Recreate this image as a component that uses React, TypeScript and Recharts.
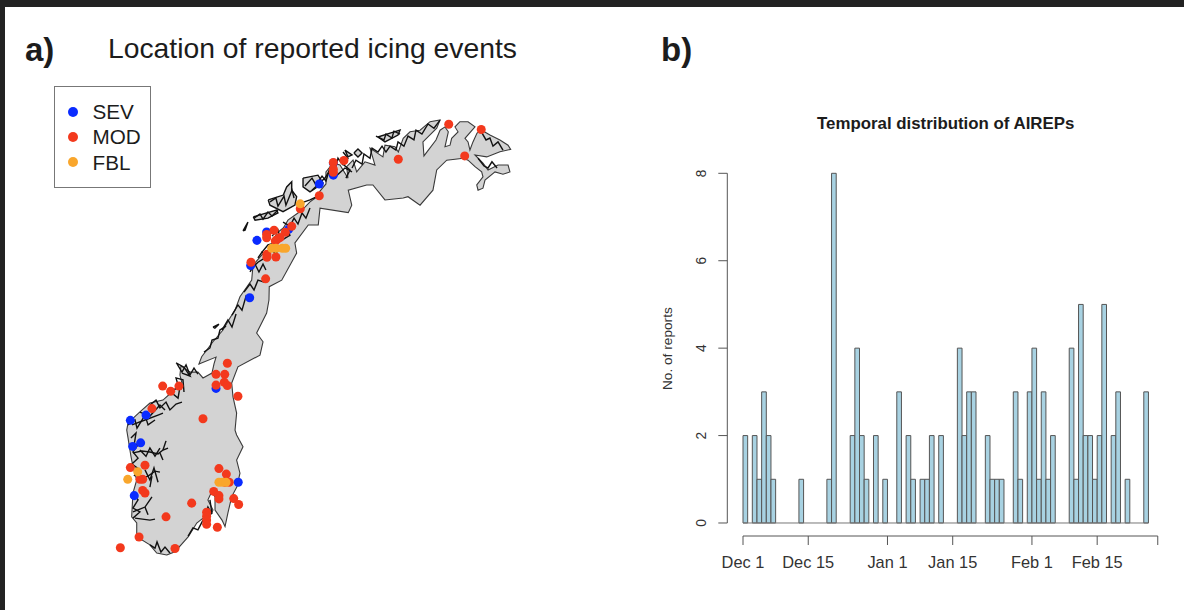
import {
  Bar,
  BarChart,
  Legend,
  ReferenceLine,
  Scatter,
  ScatterChart,
  XAxis,
  YAxis,
  ZAxis,
} from 'recharts';

type LonLat = [number, number];

// panel a: reported icing events, [lon, lat]
const sevEvents: LonLat[] = [
  [18.87, 69.59], [18.87, 69.96], [17.9, 69.32], [15.79, 67.93], [14.27, 67.85],
  [13.6, 67.59], [13.17, 66.82], [13.1, 65.83], [10.78, 63.05], [5.95, 62.23],
  [4.87, 62.07], [5.58, 61.38], [5.03, 61.27], [5.14, 59.76], [12.31, 60.17],
];

const modEvents: LonLat[] = [
  [18.87, 69.98], [18.87, 69.77], [18.87, 69.68], [19.6, 70.04], [23.35, 70.08],
  [26.83, 71.15], [29.07, 70.99], [27.93, 70.18], [17.9, 68.96], [16.59, 68.56],
  [16.0, 68.02], [15.56, 67.84], [14.78, 67.9], [14.27, 67.77], [14.27, 67.67],
  [15.19, 67.68], [15.0, 67.62], [14.87, 67.57], [14.29, 67.16], [14.29, 67.07],
  [14.91, 67.08], [13.19, 66.92], [14.2, 66.41], [11.56, 63.82], [10.78, 63.48],
  [11.38, 63.48], [10.78, 63.15], [11.35, 63.24], [11.56, 63.14], [12.29, 62.81],
  [7.1, 63.12], [7.65, 62.96], [8.22, 63.12], [6.36, 62.43], [9.88, 62.12],
  [4.87, 60.62], [5.88, 60.69], [5.53, 60.26], [5.72, 60.26], [5.72, 59.92],
  [5.88, 59.84], [10.98, 60.59], [11.49, 60.42], [11.4, 60.17], [11.69, 60.17],
  [10.62, 59.89], [10.98, 59.76], [10.98, 59.66], [12.0, 59.67], [12.34, 59.49],
  [9.1, 59.53], [7.33, 59.11], [10.13, 59.25], [10.13, 59.13], [10.13, 59.01],
  [10.13, 58.88], [10.87, 58.79], [5.47, 58.49], [7.95, 58.14], [4.18, 58.16],
];

const fblEvents: LonLat[] = [
  [16.59, 68.71], [14.62, 67.35], [14.91, 67.35], [15.35, 67.35], [15.58, 67.35],
  [5.38, 60.49], [4.69, 60.26], [10.98, 60.17], [11.21, 60.17], [11.47, 60.17],
];

// panel a: simplified coast and border of mainland Norway
const mainland: LonLat[] = [
  [7.38, 57.94], [7.95, 58.04], [8.43, 58.28], [8.87, 58.5], [9.45, 58.92], [9.88, 59.07],
  [10.36, 59.13], [10.57, 59.32], [10.22, 59.63], [10.48, 59.88], [10.71, 59.72], [10.71, 59.32],
  [11.19, 59.01], [11.4, 58.81], [11.6, 59.23], [11.86, 59.73], [12.22, 60.03], [12.43, 60.45],
  [12.2, 60.85], [12.64, 61.26], [12.2, 61.62], [12.09, 61.77], [12.2, 62.29], [11.95, 62.79],
  [11.86, 63.21], [12.29, 63.71], [13.81, 64.07], [14.02, 64.48], [13.58, 64.75], [14.27, 65.36],
  [14.43, 65.76], [14.45, 66.17], [15.31, 66.37], [16.34, 67.2], [16.22, 67.51], [17.14, 68.06],
  [17.83, 68.06], [17.95, 68.58], [19.9, 68.44], [20.14, 68.67], [19.9, 69.13], [21.17, 69.29],
  [21.6, 69.29], [22.43, 68.83], [23.69, 68.89], [24.02, 68.93], [24.85, 68.67], [25.74, 69.13],
  [26.0, 69.75], [26.69, 70.05], [27.83, 70.11], [28.16, 70.05], [28.64, 69.85], [29.1, 69.69],
  [29.19, 69.54], [28.76, 69.29], [28.85, 69.13], [29.19, 69.19], [29.33, 69.44], [30.02, 69.69],
  [30.57, 69.62], [31.05, 69.69], [30.92, 69.9], [30.23, 69.9], [29.54, 69.75], [29.19, 69.96],
  [28.64, 70.21], [29.45, 70.15], [30.36, 70.31], [31.1, 70.38], [30.92, 70.51], [30.36, 70.67],
  [29.67, 70.82], [29.1, 70.97], [28.78, 70.88], [28.5, 70.61], [28.29, 70.36], [28.16, 70.61],
  [27.95, 70.72], [28.64, 71.07], [28.16, 71.23], [27.6, 71.23], [27.26, 71.07], [27.47, 70.92],
  [27.03, 70.72], [26.92, 70.51], [26.57, 70.46], [26.8, 70.92], [26.57, 71.07], [26.23, 70.97],
  [25.95, 70.67], [25.12, 70.18], [25.05, 70.61], [26.0, 71.03], [26.23, 71.28], [25.54, 71.23],
  [24.85, 70.97], [24.16, 70.92], [23.69, 70.72], [23.35, 70.3], [23.12, 70.46], [22.43, 70.51],
  [22.29, 70.15], [21.4, 70.42], [21.74, 69.9], [21.05, 70.0], [20.48, 69.69], [20.23, 70.05],
  [19.79, 69.85], [19.88, 69.5], [19.33, 69.9], [18.85, 69.96], [18.36, 69.69], [18.36, 69.32],
  [17.95, 69.1], [17.72, 68.92], [17.26, 68.77], [16.91, 68.61], [16.43, 68.43], [15.74, 68.21],
  [15.42, 67.97], [14.96, 67.81], [14.5, 67.29], [13.93, 67.14], [13.33, 66.83], [13.24, 66.37],
  [12.43, 65.86], [12.09, 65.45], [11.74, 65.21], [11.26, 64.84], [10.57, 64.48], [9.79, 64.02],
  [9.6, 63.8], [10.78, 64.01], [10.64, 63.8], [10.5, 63.52], [9.88, 63.37], [9.53, 63.55],
  [8.98, 63.55], [8.36, 63.74], [8.29, 63.46], [8.43, 63.21], [7.74, 62.94], [7.12, 62.69],
  [6.22, 62.6], [5.53, 62.33], [4.71, 61.99], [4.62, 61.77], [4.71, 61.53], [4.84, 61.16],
  [4.91, 60.97], [5.05, 60.65], [5.31, 60.24], [5.05, 59.84], [4.96, 59.11], [5.31, 58.92],
  [5.31, 58.5], [6.22, 58.25], [6.69, 58.0], [7.38, 57.94],
];

const islands: LonLat[][] = [
  [[21.95, 70.76], [22.78, 70.88], [23.47, 70.97], [23.33, 70.82], [22.43, 70.61], [21.95, 70.76]],
  [[20.29, 70.27], [20.57, 70.39], [20.85, 70.27], [20.57, 70.15], [20.29, 70.27]],
  [[19.67, 70.36], [20.16, 70.21], [19.88, 70.15], [19.67, 70.36]],
  [[16.78, 69.5], [17.81, 69.59], [18.16, 69.35], [17.26, 69.08], [16.78, 69.23], [16.78, 69.5]],
  [[14.38, 68.83], [15.42, 68.98], [15.65, 69.23], [16.0, 69.39], [16.0, 69.13], [16.34, 68.93],
    [16.22, 68.67], [15.4, 68.47], [14.5, 68.67], [14.38, 68.83]],
  [[13.35, 68.31], [14.16, 68.42], [14.96, 68.52], [15.05, 68.43], [14.36, 68.27], [13.47, 68.21], [13.35, 68.31]],
  [[12.64, 67.88], [12.98, 68.15], [12.78, 67.9], [12.64, 67.88]],
  [[10.57, 64.93], [10.98, 65.02], [10.7, 64.9], [10.57, 64.93]],
];

// fjords and skerries, south to north
const fjords: LonLat[][] = [
  [[6.22, 58.25], [6.57, 58.15], [6.71, 58.34], [6.98, 58.03], [7.26, 58.18], [7.6, 58.0]],
  [[8.85, 58.52], [9.19, 58.77], [9.53, 58.71], [9.88, 59.01]],
  [[10.02, 59.13], [10.22, 59.41], [10.5, 59.2], [10.36, 59.63]],
  [[5.12, 59.78], [5.4, 59.63], [5.05, 59.38], [5.53, 59.26], [5.05, 59.07]],
  [[5.05, 59.26], [5.88, 59.41], [6.22, 59.63], [6.36, 59.72]],
  [[5.19, 59.07], [6.22, 59.01], [6.57, 59.04]],
  [[5.88, 59.41], [6.09, 59.17]],
  [[5.31, 60.24], [6.09, 60.36], [6.57, 60.51], [6.91, 60.48]],
  [[6.36, 60.36], [6.22, 60.02]],
  [[5.88, 60.55], [6.22, 60.24], [6.5, 60.61], [6.78, 60.17]],
  [[4.91, 61.53], [5.26, 61.68], [5.12, 61.28], [5.53, 61.4], [5.05, 61.1], [5.4, 60.91], [4.98, 60.73], [5.53, 60.55], [5.12, 60.36]],
  [[5.05, 61.07], [5.67, 61.13], [6.22, 61.1], [6.78, 61.04], [7.12, 61.16], [7.47, 61.22]],
  [[6.91, 61.07], [7.12, 60.85]],
  [[7.12, 61.16], [7.33, 61.44]],
  [[5.53, 61.16], [5.95, 60.97], [6.22, 61.22], [6.57, 60.97], [6.91, 61.22]],
  [[4.71, 61.93], [5.19, 62.08], [5.33, 61.83], [5.88, 62.23], [6.09, 61.93], [6.57, 62.08]],
  [[4.98, 61.93], [5.88, 62.08], [6.78, 62.23], [7.12, 62.29]],
  [[5.53, 62.32], [6.22, 62.2], [6.91, 62.54], [7.26, 62.39]],
  [[6.22, 62.54], [6.64, 62.69], [6.91, 62.45], [7.33, 62.63], [7.6, 62.39], [8.02, 62.57], [8.43, 62.63]],
  [[7.65, 62.94], [8.16, 62.75], [8.29, 63.09]],
  [[7.74, 62.91], [8.16, 63.15], [8.02, 63.37], [8.5, 63.31], [8.57, 62.94]],
  [[8.02, 63.83], [8.57, 63.7], [8.98, 63.43], [8.43, 63.52]],
  [[8.09, 63.8], [8.43, 63.55], [8.71, 63.77], [8.98, 63.46], [9.26, 63.67], [9.53, 63.49]],
  [[9.95, 64.16], [10.36, 64.29], [10.5, 64.53], [10.91, 64.59], [11.05, 64.84], [11.47, 64.96]],
  [[11.19, 64.84], [11.6, 65.15], [11.88, 64.93], [12.16, 65.33]],
  [[11.88, 65.3], [12.29, 65.61], [12.57, 65.45], [12.85, 65.88], [13.12, 65.76]],
  [[12.71, 66.0], [13.12, 66.25], [13.4, 66.07], [13.67, 66.37], [14.09, 66.31]],
  [[13.12, 66.62], [13.47, 66.86], [13.74, 66.62], [14.02, 66.86], [14.22, 66.68]],
  [[13.12, 66.68], [13.67, 66.92], [14.16, 67.05]],
  [[13.67, 67.05], [13.95, 67.23], [14.36, 67.05], [14.5, 67.35], [14.91, 67.17], [15.19, 67.42]],
  [[13.95, 67.23], [14.36, 67.45], [14.85, 67.51], [15.33, 67.6], [15.88, 67.75]],
  [[14.64, 67.72], [15.05, 67.91], [15.19, 67.66], [15.74, 67.97], [15.88, 67.72]],
  [[15.4, 68.15], [15.88, 68.03], [16.16, 68.27], [16.43, 68.09], [16.71, 68.43], [16.98, 68.27], [17.26, 68.58]],
  [[13.4, 68.27], [13.81, 68.4], [14.02, 68.24], [14.36, 68.46], [14.64, 68.34], [15.05, 68.52]],
  [[14.5, 68.77], [14.91, 68.89], [15.05, 68.64], [15.47, 68.95], [15.6, 68.67], [16.02, 69.13], [16.16, 68.89]],
  [[16.43, 68.7], [17.26, 68.83], [17.95, 68.98]],
  [[17.4, 69.13], [18.29, 69.5], [18.64, 69.75]],
  [[16.91, 69.26], [17.4, 69.5], [17.67, 69.29], [18.09, 69.56], [18.36, 69.41], [18.64, 69.81], [18.91, 69.62], [19.19, 70.11], [19.54, 69.9]],
  [[19.54, 70.3], [19.88, 70.11], [19.6, 69.9], [20.02, 69.75], [19.74, 69.5]],
  [[18.98, 69.53], [19.67, 69.81], [20.16, 69.69]],
  [[20.16, 69.81], [20.43, 70.05], [20.85, 69.93], [20.98, 70.24], [21.4, 70.11], [21.54, 70.42], [21.95, 70.3],
    [22.23, 70.48], [22.5, 70.3], [22.78, 70.48], [23.19, 70.36], [23.33, 70.61], [23.74, 70.48], [24.02, 70.79],
    [24.43, 70.67], [24.57, 70.97], [24.98, 70.85], [25.4, 71.16], [25.81, 71.03], [26.23, 71.28]],
  [[21.81, 70.79], [22.36, 70.67], [22.5, 70.85], [22.91, 70.73], [23.05, 70.94], [23.47, 70.85]],
  [[28.85, 70.11], [29.26, 69.87], [29.54, 69.81], [29.81, 70.0], [30.16, 69.81]],
  [[29.05, 70.94], [29.4, 70.67], [29.67, 70.73], [29.88, 70.48], [30.23, 70.61], [30.57, 70.36]],
];

// panel b: reports per day, first entry is Dec 1
const dailyReports = [
  2, 0, 2, 1, 3, 2, 1, 0, 0, 0, 0, 0, 1, 0, 0, 0, 0, 0, 1, 8, 0, 0, 0, 2, 4, 2, 1, 0, 2, 0,
  1, 0, 0, 3, 0, 2, 1, 0, 1, 1, 2, 0, 2, 0, 0, 0, 4, 2, 3, 3, 0, 0, 2, 1, 1, 1, 0, 0, 3, 1,
  0, 3, 4, 1, 3, 1, 2, 0, 0, 0, 4, 1, 5, 2, 2, 1, 2, 5, 0, 2, 3, 0, 1, 0, 0, 0, 3,
];
const dayTicks = [0, 14, 31, 45, 62, 76, 89];
const dayTickLabels = ['Dec 1', 'Dec 15', 'Jan 1', 'Jan 15', 'Feb 1', 'Feb 15', ''];
const countTicks = [0, 2, 4, 6, 8];

const toPoints = (list: LonLat[]) => list.map(([lon, lat]) => ({ lon, lat }));
const dailyTable = dailyReports.map((reports, day) => ({ mid: day + 0.5, reports }));

const FONT = '"Liberation Sans", Arial, sans-serif';
const INK = '#1c1c1c';
const AXIS = '#555555';
const EVENT_SERIES = [
  { name: 'SEV', color: '#0a2bff', list: sevEvents },
  { name: 'MOD', color: '#f3391d', list: modEvents },
  { name: 'FBL', color: '#f9a62c', list: fblEvents },
];

const noMark = () => <g />;

function MapLegend({ payload }: any) {
  // the outline series also show up in the payload, keep the severities only
  const entries = EVENT_SERIES.map((s) => (payload || []).find((p: any) => p.value === s.name)).filter(Boolean);
  return (
    <div
      style={{
        position: 'relative',
        width: 95,
        height: 100,
        border: '1px solid #777',
        background: '#fff',
        fontFamily: FONT,
        fontSize: 20.7,
        color: INK,
      }}
    >
      {entries.map((entry: any, i: number) => (
        <div key={entry.value} style={{ position: 'absolute', left: 0, top: 12 + i * 25.4, height: 25, lineHeight: '25px' }}>
          <span
            style={{
              position: 'absolute',
              left: 13,
              top: 7.5,
              width: 10,
              height: 10,
              borderRadius: 5,
              background: entry.color,
            }}
          />
          <span style={{ position: 'absolute', left: 37.5 }}>{entry.value}</span>
        </div>
      ))}
    </div>
  );
}

function NorwayMap() {
  return (
    <ScatterChart width={640} height={610} margin={{ top: 0, right: 0, bottom: 0, left: 0 }}>
      <XAxis type="number" dataKey="lon" domain={[-4.12, 40.02]} hide />
      <YAxis type="number" dataKey="lat" domain={[56.252, 74.963]} hide />
      <ZAxis range={[44, 44]} />
      <Scatter
        data={toPoints(mainland)}
        shape={noMark}
        legendType="none"
        line={{ stroke: '#3a3a3a', strokeWidth: 1.1, fill: '#d3d3d3' }}
        isAnimationActive={false}
      />
      {islands.map((island, i) => (
        <Scatter
          key={`island-${i}`}
          data={toPoints(island)}
          shape={noMark}
          legendType="none"
          line={{ stroke: '#111', strokeWidth: 1.4, fill: '#d3d3d3' }}
          isAnimationActive={false}
        />
      ))}
      {fjords.map((fjord, i) => (
        <Scatter
          key={`fjord-${i}`}
          data={toPoints(fjord)}
          shape={noMark}
          legendType="none"
          line={{ stroke: '#111', strokeWidth: 1.4, fill: 'none' }}
          isAnimationActive={false}
        />
      ))}
      {EVENT_SERIES.map((s) => (
        <Scatter key={s.name} name={s.name} data={toPoints(s.list)} fill={s.color} isAnimationActive={false} />
      ))}
      <Legend
        layout="horizontal"
        align="center"
        verticalAlign="middle"
        wrapperStyle={{ left: 54, top: 86, width: 97, height: 102 }}
        content={MapLegend}
      />
    </ScatterChart>
  );
}

function DayTick({ x, y, payload }: any) {
  const label = dayTickLabels[dayTicks.indexOf(payload.value)];
  return (
    <text x={x} y={y + 20.5} textAnchor="middle" fontFamily={FONT} fontSize={16.4} fill="#333">
      {label}
    </text>
  );
}

function CountTick({ x, y, payload }: any) {
  return (
    <text
      x={x - 10}
      y={y}
      textAnchor="middle"
      transform={`rotate(-90 ${x - 10} ${y})`}
      fontFamily={FONT}
      fontSize={13.8}
      fill="#333"
    >
      {payload.value}
    </text>
  );
}

function ReportsHistogram() {
  return (
    <BarChart width={544} height={440} data={dailyTable} margin={{ top: 23.3, right: 24, bottom: 0, left: 0 }}>
      <XAxis
        type="number"
        dataKey="mid"
        domain={[-3.37, 89.48]}
        ticks={dayTicks}
        interval={0}
        height={54}
        axisLine={false}
        tickSize={9}
        tickLine={{ stroke: AXIS }}
        tick={DayTick}
      />
      <YAxis
        type="number"
        domain={[-0.2975, 8]}
        ticks={countTicks}
        interval={0}
        width={87.3}
        axisLine={false}
        tickSize={9}
        tickLine={{ stroke: AXIS }}
        tick={CountTick}
        label={{
          value: 'No. of reports',
          angle: -90,
          position: 'center',
          dx: -17,
          dy: -6,
          style: { fontFamily: FONT, fontSize: 13.7, fill: '#333' },
        }}
      />
      <ReferenceLine segment={[{ x: 0, y: -0.2975 }, { x: 89, y: -0.2975 }]} stroke={AXIS} ifOverflow="visible" />
      <ReferenceLine segment={[{ x: -3.37, y: 0 }, { x: -3.37, y: 8 }]} stroke={AXIS} ifOverflow="visible" />
      <ReferenceLine segment={[{ x: 0, y: 0 }, { x: 87, y: 0 }]} stroke="#777" ifOverflow="visible" />
      <Bar dataKey="reports" barSize={4.66} fill="#a8d2e2" stroke={AXIS} strokeWidth={1} isAnimationActive={false} />
    </BarChart>
  );
}

const textAt = (left: number, top: number, fontSize: number, bold: boolean): React.CSSProperties => ({
  position: 'absolute',
  left,
  top,
  fontFamily: FONT,
  fontSize,
  fontWeight: bold ? 700 : 400,
  lineHeight: 1,
  color: INK,
  whiteSpace: 'nowrap',
});

export default function App() {
  return (
    <div style={{ position: 'absolute', left: 0, top: 0, width: 1184, height: 610, background: '#fff', overflow: 'hidden' }}>
      <div style={{ position: 'absolute', left: 0, top: 0 }}>
        <NorwayMap />
      </div>
      <div style={{ position: 'absolute', left: 640, top: 150 }}>
        <ReportsHistogram />
      </div>
      <div style={{ position: 'absolute', left: 0, top: 0, width: 1184, height: 7, background: '#222' }} />
      <div style={{ position: 'absolute', left: 0, top: 0, width: 5, height: 610, background: '#222' }} />
      <div style={textAt(25, 33, 33, true)}>a)</div>
      <div style={textAt(108, 34, 28.3, false)}>Location of reported icing events</div>
      <div style={textAt(661, 33, 33, true)}>b)</div>
      <div style={textAt(817, 116, 16.85, true)}>Temporal distribution of AIREPs</div>
    </div>
  );
}
